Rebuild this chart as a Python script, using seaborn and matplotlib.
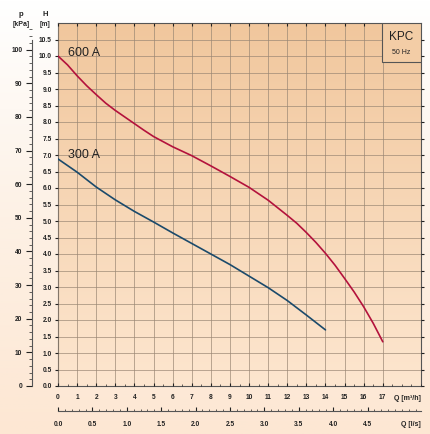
import numpy as np
import pandas as pd
import matplotlib
matplotlib.use('Agg')
import matplotlib.pyplot as plt
import seaborn as sns
from matplotlib.colors import LinearSegmentedColormap
from matplotlib.patches import Rectangle
from matplotlib.ticker import MultipleLocator, FixedLocator

# pump curves (Q in m3/h, H in m)
q_600 = [0, 0.5, 1, 1.5, 2, 2.5, 3, 3.5, 4, 4.5, 5, 6, 7, 8, 9, 10, 11, 12,
         12.5, 13, 13.5, 14, 14.5, 15, 15.5, 16, 16.5, 17]
h_600 = [10.0, 9.73, 9.40, 9.10, 8.83, 8.57, 8.35, 8.15, 7.95, 7.75, 7.56,
         7.25, 6.98, 6.67, 6.35, 6.02, 5.63, 5.17, 4.93, 4.65, 4.35, 4.02,
         3.66, 3.26, 2.85, 2.40, 1.90, 1.34]
q_300 = [0, 1, 2, 3, 4, 5, 6, 7, 8, 9, 10, 11, 12, 13, 14]
h_300 = [6.88, 6.48, 6.03, 5.64, 5.29, 4.97, 4.64, 4.32, 4.00, 3.68, 3.33,
         2.98, 2.59, 2.15, 1.70]

curve_names = ['600 A', '300 A']
curve_colors = ['#b3123c', '#1b4a6b']

q_ticks = list(range(0, 18))
h_ticks = [i * 0.5 for i in range(22)]
p_ticks = list(range(0, 101, 10))
ls_ticks = [0.0, 0.5, 1.0, 1.5, 2.0, 2.5, 3.0, 3.5, 4.0, 4.5]

df = pd.concat([
    pd.DataFrame({'Q': q_600, 'H': h_600, 'curve': curve_names[0]}),
    pd.DataFrame({'Q': q_300, 'H': h_300, 'curve': curve_names[1]}),
])

sns.set_theme(style='ticks')
plt.rcParams['font.family'] = ['Liberation Sans', 'DejaVu Sans']

fig = plt.figure(figsize=(4.30, 4.34), dpi=100)

# figure background gradient
bg = fig.add_axes([0, 0, 1, 1], zorder=-5)
bg_cmap = LinearSegmentedColormap.from_list('bg', ['#ffffff', '#fdf1e5', '#fde7d3'])
bg.imshow(np.linspace(0, 1, 256).reshape(-1, 1), aspect='auto', cmap=bg_cmap,
          extent=[0, 1, 0, 1])
bg.axis('off')

ax = fig.add_axes([58 / 430, 1 - 386 / 434, 363 / 430, 363 / 434])
ax.set_facecolor('none')
ax_cmap = LinearSegmentedColormap.from_list('ax', ['#fde6cf', '#f1c79d'])
ax.imshow(np.linspace(0, 1, 256).reshape(-1, 1), aspect='auto', cmap=ax_cmap,
          origin='lower', extent=[0, 19, 0, 11], zorder=0)

sns.lineplot(data=df, x='Q', y='H', hue='curve', palette=curve_colors,
             hue_order=curve_names, lw=1.2, legend=False, ax=ax, zorder=3,
             sort=False)

ax.set_xlim(0, 19)
ax.set_ylim(0, 11)
ax.xaxis.set_major_locator(FixedLocator(q_ticks))
ax.set_xticklabels([str(t) for t in q_ticks])
ax.xaxis.set_minor_locator(MultipleLocator(0.5))
ax.yaxis.set_major_locator(FixedLocator(h_ticks))
ax.set_yticklabels(['%.1f' % t for t in h_ticks])
ax.set_xlabel('')
ax.set_ylabel('')

ax.grid(which='major', color='#9a8774', lw=0.6, alpha=0.8)
ax.set_axisbelow(False)
for s in ax.spines.values():
    s.set_color('#555555')
    s.set_linewidth(0.8)
    s.set_visible(True)

ax.tick_params(axis='x', which='major', direction='in', length=2.5, width=0.8,
               labelsize=4.8, pad=6, top=True, colors='#222222')
ax.tick_params(axis='x', which='minor', direction='in', length=1.2, width=0.5,
               top=False)
ax.tick_params(axis='y', which='major', direction='out', length=2.5, width=0.8,
               labelsize=4.8, pad=2, right=True, colors='#222222')
for lab in ax.get_xticklabels() + ax.get_yticklabels():
    lab.set_fontweight('bold')

# pressure axis on the far left
sec_p = ax.secondary_yaxis(-26 / 363, functions=(lambda h: h * 9.81,
                                                 lambda p: p / 9.81))
sec_p.yaxis.set_major_locator(FixedLocator(p_ticks))
sec_p.yaxis.set_minor_locator(MultipleLocator(2))
sec_p.tick_params(which='major', direction='out', length=4, width=0.8,
                  labelsize=4.8, pad=3, colors='#222222')
sec_p.tick_params(which='minor', direction='out', length=2, width=0.5)
sec_p.spines['left'].set_color('#555555')
sec_p.spines['left'].set_linewidth(0.8)
sec_p.spines['left'].set_bounds(0, 103)
for lab in sec_p.get_yticklabels():
    lab.set_fontweight('bold')

# flow in l/s below
sec_q = ax.secondary_xaxis(-25 / 363, functions=(lambda q: q / 3.6,
                                                 lambda l: l * 3.6))
sec_q.xaxis.set_major_locator(FixedLocator(ls_ticks))
sec_q.xaxis.set_minor_locator(MultipleLocator(0.1))
sec_q.set_xticklabels(['%.1f' % t for t in ls_ticks])
sec_q.tick_params(which='major', direction='in', length=3, width=0.8,
                  labelsize=4.8, pad=7, colors='#222222')
sec_q.tick_params(which='minor', direction='in', length=1.5, width=0.5)
sec_q.spines['bottom'].set_color('#555555')
sec_q.spines['bottom'].set_linewidth(0.8)
for lab in sec_q.get_xticklabels():
    lab.set_fontweight('bold')

# axis headers and unit labels
fig.text(21 / 430, 1 - 15 / 434, 'p', ha='center', va='center', fontsize=5.5,
         fontweight='bold', color='#222222')
fig.text(21 / 430, 1 - 24 / 434, '[kPa]', ha='center', va='center', fontsize=5,
         fontweight='bold', color='#222222')
fig.text(45 / 430, 1 - 15 / 434, 'H', ha='center', va='center', fontsize=5.5,
         fontweight='bold', color='#222222')
fig.text(45 / 430, 1 - 24 / 434, '[m]', ha='center', va='center', fontsize=5,
         fontweight='bold', color='#222222')
fig.text(421 / 430, 1 - 398 / 434, 'Q [m³/h]', ha='right', va='center',
         fontsize=5, fontweight='bold', color='#222222')
fig.text(421 / 430, 1 - 424 / 434, 'Q [l/s]', ha='right', va='center',
         fontsize=5, fontweight='bold', color='#222222')

# curve labels
ax.text(0.52, 10.09, curve_names[0], fontsize=9, va='center', color='#222222',
        zorder=4)
ax.text(0.52, 7.0, curve_names[1], fontsize=9, va='center', color='#222222',
        zorder=4)

# KPC box
box = Rectangle((324 / 363, 324 / 363), 39 / 363, 39 / 363,
                transform=ax.transAxes, facecolor='#f3cda6', edgecolor='#555555',
                lw=0.8, zorder=5)
ax.add_patch(box)
ax.text(343.5 / 363, 349 / 363, 'KPC', transform=ax.transAxes, ha='center',
        va='center', fontsize=8.5, color='#222222', zorder=6)
ax.text(343.5 / 363, 334 / 363, '50 Hz', transform=ax.transAxes, ha='center',
        va='center', fontsize=5, color='#222222', zorder=6)

fig.savefig('out.png', dpi=100)
